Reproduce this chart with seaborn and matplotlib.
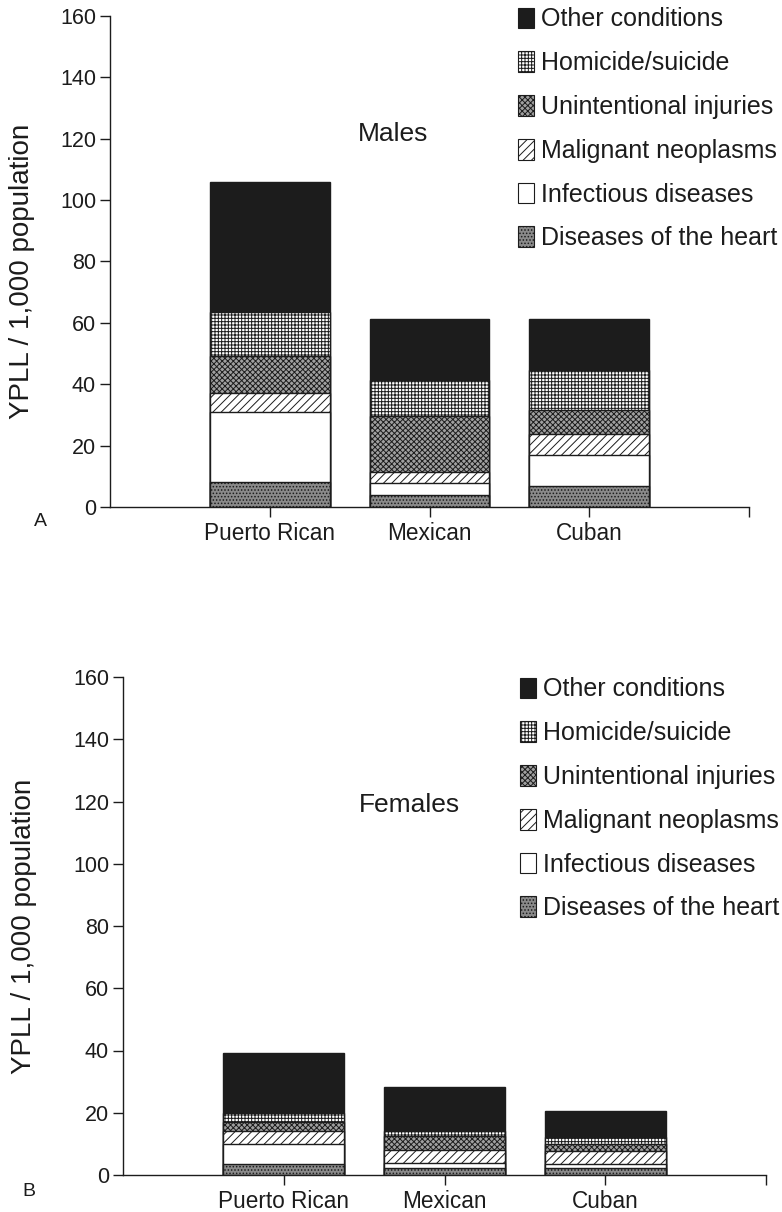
import matplotlib
matplotlib.use("Agg")
import matplotlib.pyplot as plt
import matplotlib.patches as mpatches
import numpy as np
import pandas as pd
import seaborn as sns

# ---------------- data ----------------
groups = ["Puerto Rican", "Mexican", "Cuban"]
causes = ["Diseases of the heart", "Infectious diseases", "Malignant neoplasms",
          "Unintentional injuries", "Homicide/suicide", "Other conditions"]

male_heart = [8.1, 4.0, 7.0]
male_infectious = [23.0, 3.8, 9.8]
male_malignant = [6.1, 3.7, 7.1]
male_unintentional = [12.0, 18.1, 7.6]
male_homicide = [14.4, 11.7, 13.3]
male_other = [42.3, 20.0, 16.3]

female_heart = [3.5, 2.2, 2.4]
female_infectious = [6.6, 1.8, 1.1]
female_malignant = [4.1, 4.0, 4.3]
female_unintentional = [2.9, 4.4, 2.1]
female_homicide = [2.8, 1.8, 2.2]
female_other = [19.2, 14.2, 8.5]

y_ticks = [0, 20, 40, 60, 80, 100, 120, 140, 160]
panel_titles = ["Males", "Females"]
panel_letters = ["A", "B"]

# ---------------- style ----------------
sns.set_theme(style="white")
plt.rcParams["font.family"] = ["Liberation Sans", "DejaVu Sans"]
plt.rcParams["hatch.linewidth"] = 0.7
INK = "#1c1c1c"

styles = {
    "Diseases of the heart": dict(facecolor="#8a8a8a", hatch="....."),
    "Infectious diseases": dict(facecolor="white", hatch=None),
    "Malignant neoplasms": dict(facecolor="white", hatch="////"),
    "Unintentional injuries": dict(facecolor="#a0a0a0", hatch="xxxxxx"),
    "Homicide/suicide": dict(facecolor="white", hatch="+++++"),
    "Other conditions": dict(facecolor=INK, hatch=None),
}

fig = plt.figure(figsize=(7.82, 12.12), dpi=100)
ax_top = fig.add_axes([110 / 782, 1 - 507 / 1212, 639 / 782, 491 / 1212])
ax_bot = fig.add_axes([123 / 782, 1 - 1175 / 1212, 643 / 782, 498 / 1212])

panels = [
    (ax_top, [male_heart, male_infectious, male_malignant, male_unintentional, male_homicide, male_other]),
    (ax_bot, [female_heart, female_infectious, female_malignant, female_unintentional, female_homicide, female_other]),
]

legend_anchor = [(505 / 782, 1 + 5 / 1212), (507 / 782, 1 - 665 / 1212)]
title_pos = [(0.77, 121.5), (0.78, 119.0)]
letter_pos = [(40 / 782, 1 - 521 / 1212), (29 / 782, 1 - 1192 / 1212)]
ylabel_pos = [(-0.118, 0.48), (-0.133, 0.5)]

for i, (ax, series) in enumerate(panels):
    arr = np.array(series)
    cum = np.cumsum(arr, axis=0)
    # draw from the tallest cumulative layer down so lower layers sit on top
    for k in range(len(causes) - 1, -1, -1):
        df = pd.DataFrame({"group": groups, "value": cum[k]})
        st = styles[causes[k]]
        sns.barplot(data=df, x="group", y="value", ax=ax, width=0.75,
                    color=st["facecolor"], saturation=1, errorbar=None,
                    edgecolor=INK, linewidth=1.0, hatch=st["hatch"])
    ax.set_xlim(-1, 3)
    ax.set_ylim(0, 160)
    ax.set_yticks(y_ticks)
    ax.set_yticklabels([str(t) for t in y_ticks])
    ax.set_xticks([3], minor=True)
    ax.set_xlabel("")
    ax.set_ylabel("YPLL / 1,000 population", fontsize=20, color=INK)
    ax.yaxis.set_label_coords(*ylabel_pos[i])
    for s in ["top", "right"]:
        ax.spines[s].set_visible(False)
    for s in ["left", "bottom"]:
        ax.spines[s].set_color(INK)
        ax.spines[s].set_linewidth(1.0)
    ax.tick_params(axis="both", which="major", direction="out", length=7, width=1.0,
                   color=INK, labelcolor=INK, labelsize=15.5, pad=3,
                   left=True, bottom=True)
    ax.tick_params(axis="x", which="major", labelsize=16.3, pad=4)
    ax.tick_params(axis="x", which="minor", direction="out", length=7, width=1.0,
                   color=INK, bottom=True)
    ax.text(title_pos[i][0], title_pos[i][1], panel_titles[i], fontsize=19,
            color=INK, ha="center", va="center")
    fig.text(letter_pos[i][0], letter_pos[i][1], panel_letters[i], fontsize=14,
             color=INK, ha="center", va="center")

    handles = []
    for c in reversed(causes):
        st = styles[c]
        handles.append(mpatches.Patch(facecolor=st["facecolor"], hatch=st["hatch"],
                                      edgecolor=INK, linewidth=0.8, label=c))
    fig.legend(handles=handles, loc="upper left", bbox_to_anchor=legend_anchor[i],
               frameon=False, fontsize=18, handlelength=0.65, handleheight=0.9,
               handletextpad=0.3, labelspacing=0.79, borderpad=0.0,
               labelcolor=INK)

fig.savefig("out.png", dpi=100, facecolor="white")
